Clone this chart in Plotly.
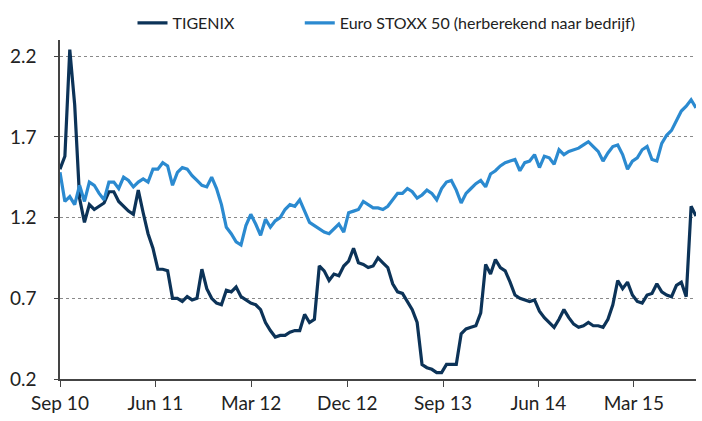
import pandas as pd
import plotly.graph_objects as go

# dates: every 14 days starting Sep 1 2010
dates = pd.date_range("2010-09-01", periods=131, freq="14D")

tigenix = [
    1.50, 1.58, 2.24, 1.90, 1.32, 1.17, 1.28, 1.25, 1.27, 1.29,
    1.36, 1.36, 1.30, 1.27, 1.24, 1.22, 1.37, 1.23, 1.10, 1.01,
    0.88, 0.88, 0.87, 0.70, 0.70, 0.68, 0.71, 0.69, 0.70, 0.88,
    0.76, 0.70, 0.67, 0.66, 0.75, 0.74, 0.77, 0.71, 0.69, 0.67,
    0.66, 0.63, 0.55, 0.50, 0.46, 0.47, 0.47, 0.49, 0.50, 0.50,
    0.60, 0.55, 0.57, 0.90, 0.87, 0.81, 0.85, 0.84, 0.90, 0.93,
    1.01, 0.92, 0.91, 0.89, 0.90, 0.95, 0.92, 0.89, 0.79, 0.74,
    0.73, 0.68, 0.63, 0.55, 0.29, 0.27, 0.26, 0.24, 0.24, 0.29,
    0.29, 0.29, 0.48, 0.51, 0.52, 0.53, 0.61, 0.91, 0.85, 0.94,
    0.89, 0.87, 0.80, 0.72, 0.70, 0.69, 0.68, 0.69, 0.62, 0.58,
    0.55, 0.52, 0.57, 0.63, 0.58, 0.54, 0.52, 0.53, 0.55, 0.53,
    0.53, 0.52, 0.57, 0.66, 0.81, 0.76, 0.80, 0.72, 0.68, 0.67,
    0.72, 0.73, 0.79, 0.74, 0.72, 0.71, 0.78, 0.80, 0.71, 1.27,
    1.21,
]

stoxx = [
    1.48, 1.30, 1.33, 1.28, 1.40, 1.30, 1.42, 1.40, 1.35, 1.31,
    1.42, 1.42, 1.38, 1.45, 1.43, 1.39, 1.42, 1.44, 1.42, 1.50,
    1.50, 1.54, 1.52, 1.40, 1.48, 1.51, 1.50, 1.46, 1.43, 1.40,
    1.39, 1.45, 1.38, 1.28, 1.14, 1.10, 1.05, 1.03, 1.15, 1.22,
    1.16, 1.09, 1.19, 1.14, 1.18, 1.20, 1.25, 1.28, 1.27, 1.31,
    1.24, 1.17, 1.15, 1.13, 1.11, 1.10, 1.13, 1.16, 1.11, 1.23,
    1.24, 1.25, 1.30, 1.28, 1.26, 1.26, 1.25, 1.27, 1.31, 1.35,
    1.35, 1.38, 1.36, 1.32, 1.34, 1.37, 1.35, 1.31, 1.38, 1.42,
    1.43, 1.37, 1.29, 1.35, 1.38, 1.41, 1.43, 1.39, 1.47, 1.49,
    1.52, 1.54, 1.55, 1.56, 1.49, 1.54, 1.55, 1.59, 1.51, 1.58,
    1.57, 1.53, 1.62, 1.59, 1.61, 1.62, 1.63, 1.65, 1.67, 1.64,
    1.61, 1.55, 1.60, 1.64, 1.65, 1.59, 1.50, 1.55, 1.57, 1.62,
    1.64, 1.56, 1.55, 1.66, 1.71, 1.74, 1.80, 1.86, 1.89, 1.93,
    1.88,
]

tick_dates = ["2010-09-01", "2011-06-01", "2012-03-01", "2012-12-01",
              "2013-09-01", "2014-06-01", "2015-03-01"]
tick_labels = ["Sep 10", "Jun 11", "Mar 12", "Dec 12", "Sep 13", "Jun 14", "Mar 15"]
y_ticks = [0.2, 0.7, 1.2, 1.7, 2.2]

DARK = "#0c3358"
LIGHT = "#2b8ad0"
FONT = "Lato, Open Sans, sans-serif"

fig = go.Figure()
fig.add_trace(go.Scatter(x=dates, y=tigenix, mode="lines", name="TIGENIX",
                         line=dict(color=DARK, width=3.2), legend="legend"))
fig.add_trace(go.Scatter(x=dates, y=stoxx, mode="lines",
                         name="Euro STOXX 50 (herberekend naar bedrijf)",
                         line=dict(color=LIGHT, width=3.2), legend="legend2"))

leg_common = dict(orientation="h", xanchor="left", y=1.05, yanchor="middle",
                  font=dict(size=16, color="#222222"), bgcolor="rgba(0,0,0,0)")

fig.update_layout(
    width=702, height=421,
    margin=dict(l=60, r=6, t=32, b=42),
    paper_bgcolor="white", plot_bgcolor="white",
    font=dict(family=FONT, size=15, color="#222222"),
    showlegend=True,
    legend=dict(x=0.114, **leg_common),
    legend2=dict(x=0.377, **leg_common),
)
fig.update_xaxes(
    type="date", range=["2010-09-01", "2015-08-26"],
    tickmode="array", tickvals=tick_dates, ticktext=tick_labels,
    showgrid=False, showline=True, linecolor="#444444", linewidth=1.5,
    ticks="outside", ticklen=6, tickcolor="#444444",
    tickfont=dict(size=19), zeroline=False,
)
fig.update_yaxes(
    range=[0.2, 2.3], tickmode="array", tickvals=y_ticks,
    ticktext=[f"{v:.1f}" for v in y_ticks],
    showgrid=True, gridcolor="#8a8a8a", griddash="dot", gridwidth=1,
    showline=True, linecolor="#444444", linewidth=1.5,
    ticks="outside", ticklen=4, tickcolor="#444444",
    tickfont=dict(size=19), ticklabelstandoff=14, zeroline=False,
)

fig.write_html("out.html")
